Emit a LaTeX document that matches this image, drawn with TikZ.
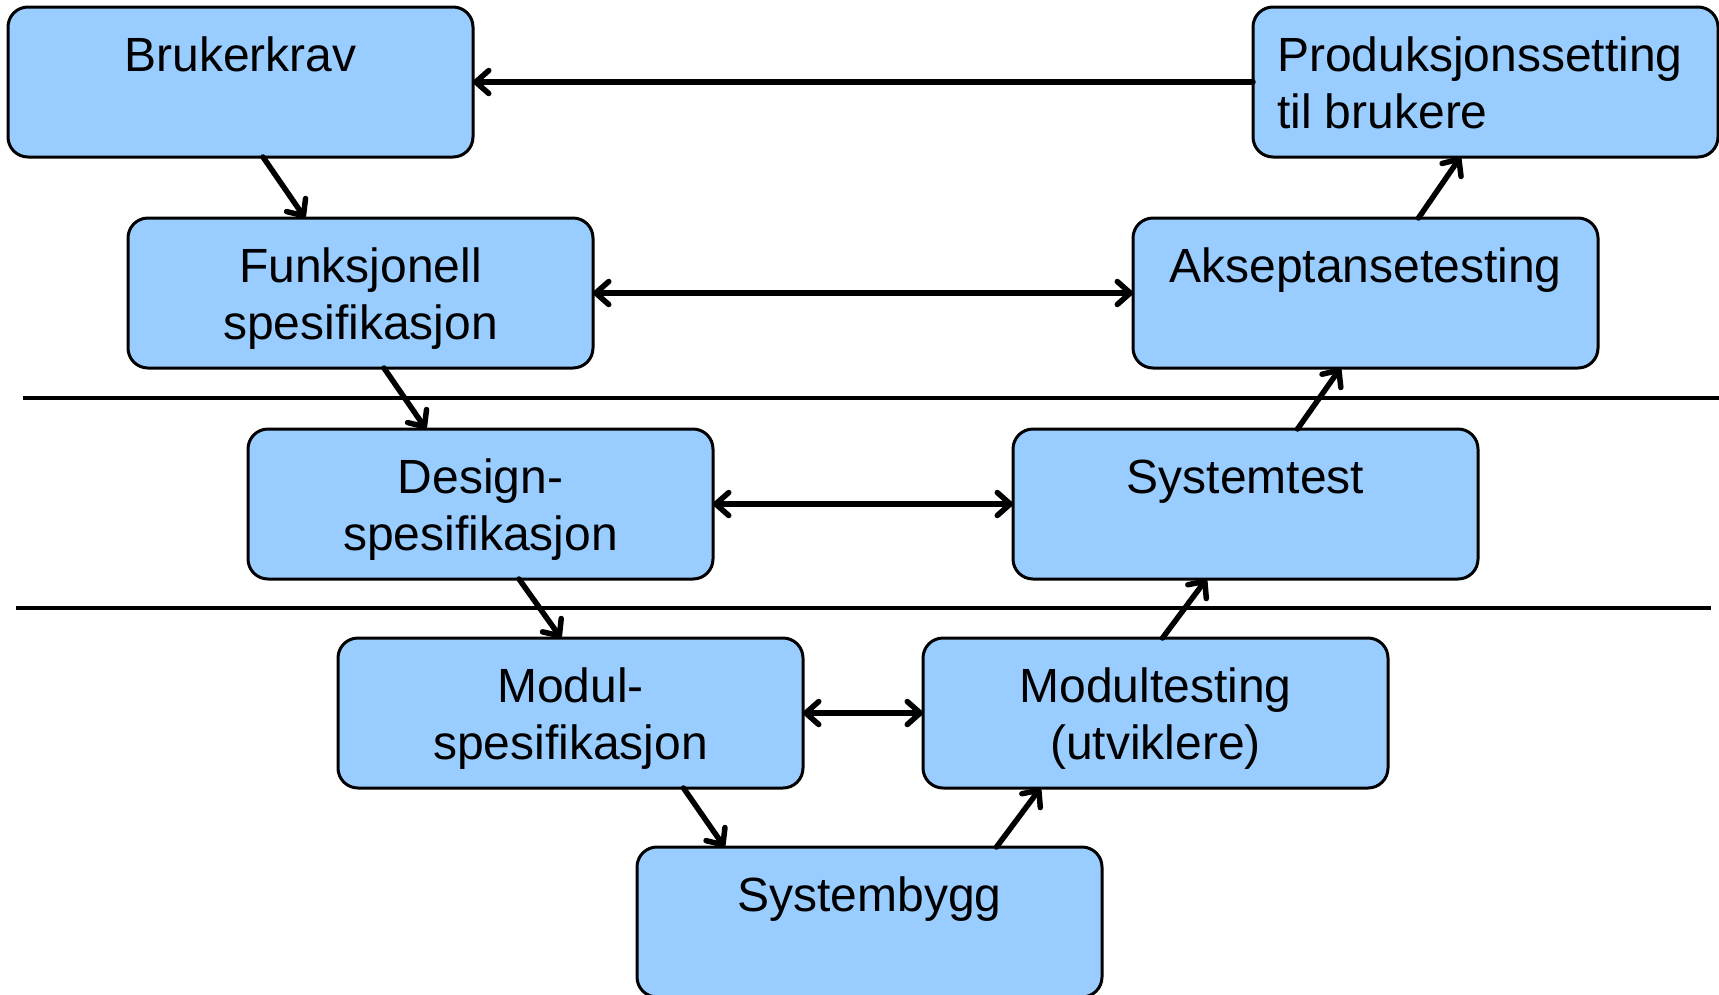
\documentclass[tikz,border=0pt]{standalone}
\usepackage{fontspec}
\setmainfont{Liberation Sans}
\usetikzlibrary{arrows.meta}
\definecolor{boxblue}{RGB}{153,204,255}

% block contents: text hangs from the top edge of a 465 x 150 box
\newcommand{\blocktext}[1]{\parbox[t][150pt][t]{465pt}{\fontsize{48pt}{57pt}\selectfont\centering\rule{0pt}{64pt}#1\par}}
\newcommand{\blocktextleft}[1]{\parbox[t][150pt][t]{465pt}{\fontsize{48pt}{57pt}\selectfont\raggedright\leftskip=24pt\rule{0pt}{64pt}#1\par}}

\tikzset{
  blk/.style={draw=black, line width=3pt, fill=boxblue, rounded corners=20pt,
              inner sep=0pt, outer sep=0pt, anchor=north west},
  tip/.tip={Straight Barb[length=13pt,width=23pt,line cap=round,line join=round]},
  arr/.style={line width=5.5pt, line cap=round, line join=round, -tip},
  biarr/.style={line width=5.5pt, line cap=round, line join=round, tip-tip},
  sep/.style={line width=3.5pt, draw=black}
}

\begin{document}
\begin{tikzpicture}[x=1pt,y=-1pt]
\useasboundingbox (0,0) rectangle (1719,994);

% separators between the levels
\coordinate (s1a) at (23,398);
\coordinate (s1b) at (1719,398);
\coordinate (s2a) at (16,608);
\coordinate (s2b) at (1711,608);
\draw[sep] (s1a) -- (s1b);
\draw[sep] (s2a) -- (s2b);

% left leg
\node[blk] (bk) at (8,7)    {\blocktext{Brukerkrav}};
\node[blk] (fs) at (128,218) {\blocktext{Funksjonell\\spesifikasjon}};
\node[blk] (ds) at (248,429) {\blocktext{Design-\\spesifikasjon}};
\node[blk] (ms) at (338,638) {\blocktext{Modul-\\spesifikasjon}};
% bottom
\node[blk] (sb) at (637,847) {\blocktext{Systembygg}};
% right leg
\node[blk] (mt) at (923,638)  {\blocktext{Modultesting\\(utviklere)}};
\node[blk] (st) at (1013,429) {\blocktext{Systemtest}};
\node[blk] (at) at (1133,218) {\blocktext{Akseptansetesting}};
\node[blk] (pt) at (1253,7)   {\blocktextleft{Produksjonssetting\\til brukere}};

% descending steps
\draw[arr] ([xshift=22.5pt]bk.south) -- ([xshift=-55.5pt]fs.north);
\draw[arr] ([xshift=23.5pt]fs.south) -- ([xshift=-54.5pt]ds.north);
\draw[arr] ([xshift=38.5pt]ds.south) -- ([xshift=-9.5pt]ms.north);
\draw[arr] ([xshift=113pt]ms.south) -- ([xshift=-145pt]sb.north);
% ascending steps
\draw[arr] ([xshift=127pt]sb.north) -- ([xshift=-115pt]mt.south);
\draw[arr] ([xshift=7pt]mt.north) -- ([xshift=-39pt]st.south);
\draw[arr] ([xshift=52pt]st.north) -- ([xshift=-25pt]at.south);
\draw[arr] ([xshift=53pt]at.north) -- ([xshift=-25pt]pt.south);

% level correspondences
\draw[arr]   (pt.west) -- (bk.east);
\draw[biarr] (fs.east) -- (at.west);
\draw[biarr] (ds.east) -- (st.west);
\draw[biarr] (ms.east) -- (mt.west);
\end{tikzpicture}
\end{document}
